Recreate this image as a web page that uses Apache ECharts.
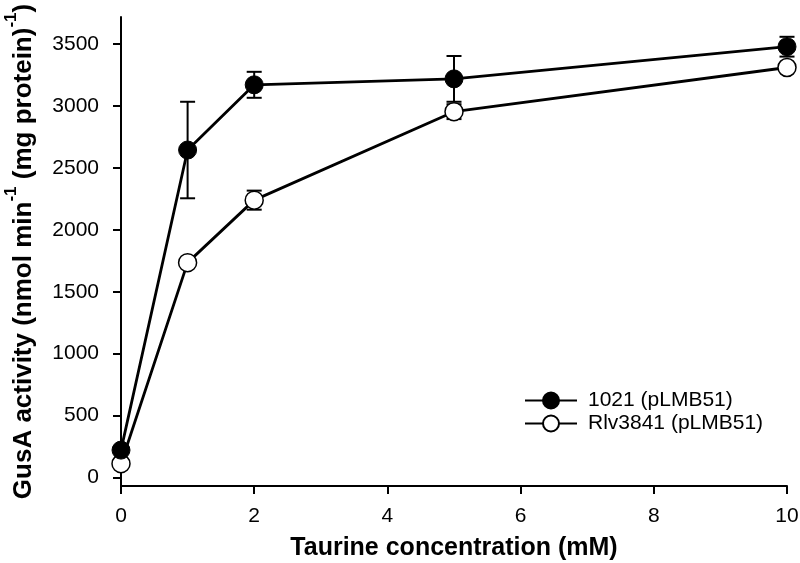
<!DOCTYPE html>
<html>
<head>
<meta charset="utf-8">
<script src="https://cdn.jsdelivr.net/npm/echarts@6/dist/echarts.min.js"></script>
<style>html,body{margin:0;padding:0;background:#fff}#c{width:800px;height:563px}</style>
</head>
<body>
<div id="c"></div>
<script>
// Data
const concentrations = [0, 1, 2, 5, 10];
const series1Name = '1021 (pLMB51)';
const series1Values = [220, 2645, 3172, 3220, 3480];
const series1Errors = [0, 390, 105, 185, 80];
const series2Name = 'Rlv3841 (pLMB51)';
const series2Values = [110, 1735, 2240, 2955, 3312];
const series2Errors = [0, 0, 77, 60, 0];
const yTickValues = [0, 500, 1000, 1500, 2000, 2500, 3000, 3500];
const xTickValues = [0, 2, 4, 6, 8, 10];

const FONT = "'Liberation Sans', Arial, sans-serif";

function pts(vals) { return concentrations.map((x, i) => [x, vals[i]]); }
function errPts(vals, errs) {
  return concentrations.map((x, i) => [x, vals[i], errs[i]]).filter(d => d[2] > 0);
}
function errorRender(params, api) {
  const x = api.value(0), y = api.value(1), e = api.value(2);
  const top = api.coord([x, y + e]);
  const bot = api.coord([x, y - e]);
  const hw = 7.5;
  const st = { stroke: '#000', lineWidth: 2 };
  return {
    type: 'group',
    children: [
      { type: 'line', shape: { x1: top[0], y1: top[1], x2: bot[0], y2: bot[1] }, style: st },
      { type: 'line', shape: { x1: top[0] - hw, y1: top[1], x2: top[0] + hw, y2: top[1] }, style: st },
      { type: 'line', shape: { x1: bot[0] - hw, y1: bot[1], x2: bot[0] + hw, y2: bot[1] }, style: st }
    ]
  };
}

const chart = echarts.init(document.getElementById('c'), null, { renderer: 'canvas' });
chart.setOption({
  animation: false,
  backgroundColor: '#fff',
  grid: { left: 121, right: 13, top: 17, bottom: 77, containLabel: false, outerBoundsMode: 'none' },
  legend: {
    orient: 'vertical', left: 519, top: 385,
    itemWidth: 52, itemHeight: 20, itemGap: 2,
    textStyle: { fontSize: 21, fontFamily: FONT, color: '#000', padding: [0, 0, 0, 6] },
    data: [series1Name, series2Name]
  },
  xAxis: {
    type: 'value', min: 0, max: 10, interval: 2,
    name: 'Taurine concentration (mM)', nameLocation: 'middle', nameGap: 50,
    nameTextStyle: { fontSize: 25, fontWeight: 'bold', fontFamily: FONT, color: '#000' },
    axisLine: { show: true, onZero: false, lineStyle: { color: '#000', width: 2 } },
    axisTick: { show: true, inside: false, length: 8, lineStyle: { color: '#000', width: 2 } },
    axisLabel: { margin: 20, fontSize: 21, fontFamily: FONT, color: '#000', formatter: v => String(v) },
    splitLine: { show: false }
  },
  yAxis: {
    type: 'value', min: -70, max: 3720,
    name: '{m|GusA activity (nmol min}{s|-1}{m| (mg protein)}{s|-1}{m|)}',
    nameLocation: 'middle', nameGap: 84,
    nameTextStyle: {
      fontFamily: FONT, color: '#000',
      rich: {
        m: { fontSize: 26, fontWeight: 'bold', fontFamily: FONT, color: '#000', lineHeight: 34, verticalAlign: 'bottom' },
        s: { fontSize: 17, fontWeight: 'bold', fontFamily: FONT, color: '#000', lineHeight: 34, verticalAlign: 'top' }
      }
    },
    axisLine: { show: true, onZero: false, lineStyle: { color: '#000', width: 2 } },
    axisTick: { show: true, inside: false, length: 8, lineStyle: { color: '#000', width: 2 }, customValues: yTickValues },
    axisLabel: { margin: 22, fontSize: 21, fontFamily: FONT, color: '#000', customValues: yTickValues, formatter: v => String(v) },
    splitLine: { show: false }
  },
  series: [
    {
      type: 'custom', name: 'err1', renderItem: errorRender, data: errPts(series1Values, series1Errors),
      z: 1, silent: true, encode: { x: 0, y: 1 }
    },
    {
      type: 'custom', name: 'err2', renderItem: errorRender, data: errPts(series2Values, series2Errors),
      z: 1, silent: true, encode: { x: 0, y: 1 }
    },
    {
      type: 'line', name: series1Name, data: pts(series1Values), z: 3,
      symbol: 'circle', symbolSize: 18,
      lineStyle: { color: '#000', width: 2.8 },
      itemStyle: { color: '#000', borderColor: '#000', borderWidth: 1 }
    },
    {
      type: 'line', name: series2Name, data: pts(series2Values), z: 2,
      symbol: 'circle', symbolSize: 18,
      lineStyle: { color: '#000', width: 2.8 },
      itemStyle: { color: '#fff', borderColor: '#000', borderWidth: 1.5 }
    }
  ]
});
</script>
</body>
</html>
